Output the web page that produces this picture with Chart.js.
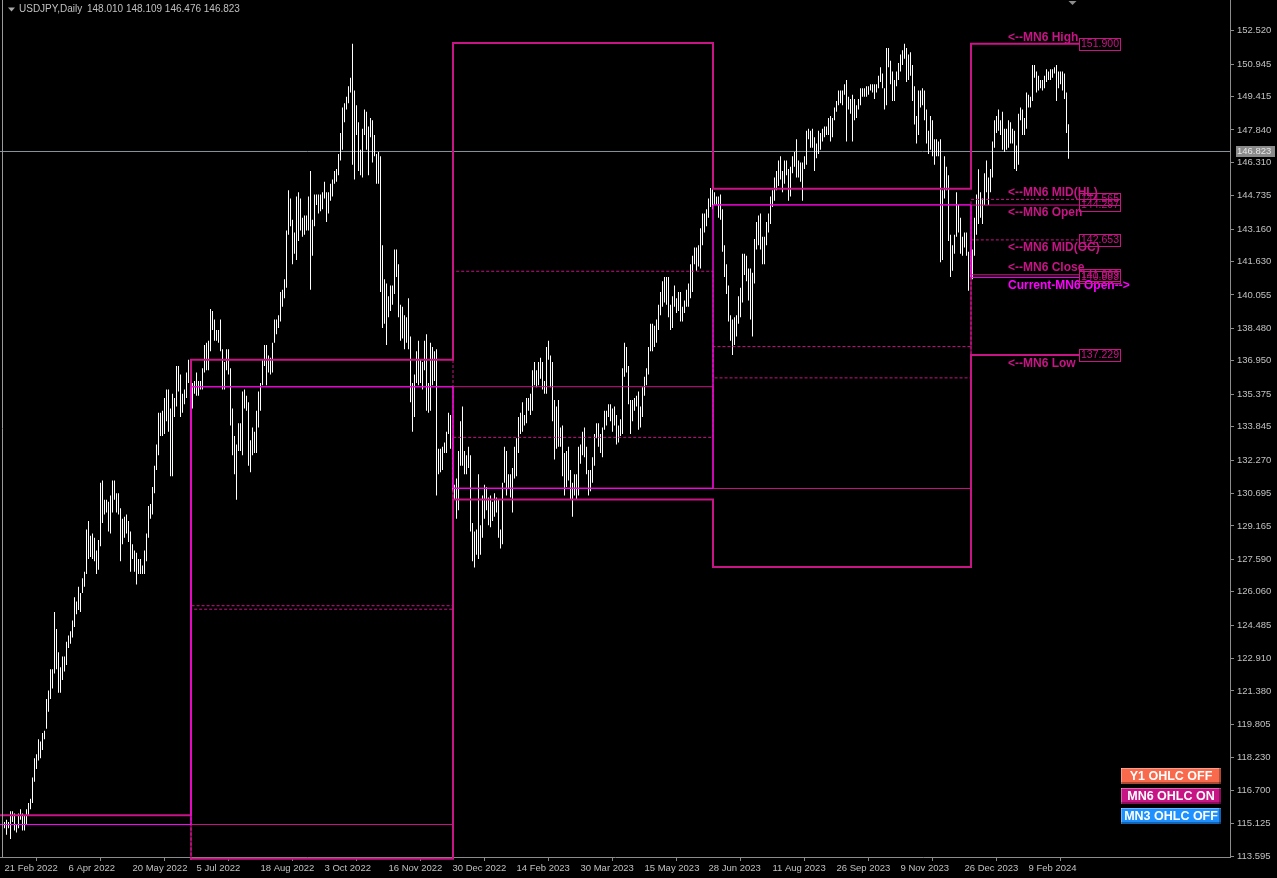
<!DOCTYPE html>
<html>
<head>
<meta charset="utf-8">
<script src="https://cdn.jsdelivr.net/npm/chart.js@4.4.1/dist/chart.umd.min.js"></script>
<style>
html, body { margin: 0; padding: 0; background: #000; }
canvas { display: block; }
</style>
</head>
<body>
<canvas id="chart" width="1277" height="878"></canvas>
<script>
// --- data ---
const symbolTitle = "USDJPY,Daily";
const lastBarOHLC = [148.010, 148.109, 146.476, 146.823];
const currentPrice = 146.823;

// bar index of each labelled date (one bar per weekday)
const xTickBars = [0, 32, 64, 96, 128, 160, 192, 224, 256, 288, 320, 352, 384, 416, 448, 480, 512];
const xTickLabels = ["21 Feb 2022", "6 Apr 2022", "20 May 2022", "5 Jul 2022", "18 Aug 2022", "3 Oct 2022",
  "16 Nov 2022", "30 Dec 2022", "14 Feb 2023", "30 Mar 2023", "15 May 2023", "28 Jun 2023",
  "11 Aug 2023", "26 Sep 2023", "9 Nov 2023", "26 Dec 2023", "9 Feb 2024"];
const yTickValues = [152.520, 150.945, 149.415, 147.840, 146.310, 144.735, 143.160, 141.630, 140.055,
  138.480, 136.950, 135.375, 133.845, 132.270, 130.695, 129.165, 127.590, 126.060, 124.485, 122.910,
  121.380, 119.805, 118.230, 116.700, 115.125, 113.595];

// daily highs, one row per week (21 Feb 2022 .. 8 Mar 2024)
const barHigh = [
  115.2,115.3,115.2,115.7,115.7, 115.6,115.1,115.6,115.8,115.6, 115.5,115.8,116.1,116.3,117.3,
  118.2,118.4,119.1,119.0,119.4, 119.5,121.0,121.4,122.4,122.4, 125.1,124.3,123.2,122.5,123.0,
  123.0,123.7,124.0,124.2,124.7, 125.8,125.6,126.3,126.0,126.7, 127.0,129.0,129.4,128.7,128.8,
  128.6,128.0,128.5,131.2,131.3, 130.4,130.4,130.3,130.6,131.3, 131.3,130.7,130.7,130.0,129.5,
  129.6,129.7,129.4,128.9,128.3, 128.0,127.9,127.6,127.6,127.3, 128.0,128.8,130.1,130.2,131.0,
  132.0,133.0,134.5,134.5,134.6, 135.2,135.6,135.6,134.7,135.4, 135.2,136.7,136.7,136.3,135.4,
  135.6,136.4,137.0,136.9,135.9, 136.0,136.4,136.0,136.0,136.6, 137.7,137.8,137.9,139.4,139.3,
  138.9,138.4,138.4,138.9,137.5, 136.9,137.5,137.5,136.6,134.7, 133.4,133.0,134.0,134.0,135.5,
  135.6,135.3,135.0,133.2,133.8, 133.6,134.6,135.5,135.9,137.0, 137.7,137.7,137.2,137.1,137.8,
  138.9,138.9,139.1,140.2,140.3, 140.8,143.1,145.0,144.6,143.6, 143.0,144.7,144.9,144.6,143.7,
  143.8,143.8,144.7,145.9,143.6, 144.8,144.8,144.8,144.8,144.9, 145.4,144.9,144.9,145.3,145.5,
  145.9,146.0,146.7,147.7,148.9, 149.1,149.4,149.9,150.3,151.9, 149.7,149.0,148.2,146.9,147.9,
  148.8,148.7,148.0,148.4,148.3, 147.6,146.7,146.8,146.6,142.4, 140.8,140.6,140.0,140.5,140.5,
  142.2,142.2,141.5,139.6,139.5, 139.1,139.0,139.9,138.1,135.9, 136.3,137.4,137.9,137.0,136.9,
  137.9,138.2,135.9,137.8,137.6, 137.4,137.5,132.8,132.8,132.9, 133.1,133.6,134.5,134.4,133.3,
  131.1,131.4,132.7,134.1,134.8, 132.7,132.5,132.9,132.5,129.3, 128.9,129.0,131.6,129.2,130.6,
  131.1,131.0,130.5,130.6,130.3, 130.7,130.5,130.4,129.0,131.2, 132.9,132.7,131.6,131.6,131.9,
  132.9,133.3,134.3,134.5,135.0, 134.4,135.2,135.2,135.4,136.5, 136.9,136.5,136.9,137.1,136.9,
  136.0,137.6,137.9,137.2,136.9, 135.1,134.8,135.1,133.8,133.9, 132.6,132.7,132.9,131.8,131.2,
  131.6,131.6,132.9,133.0,133.6, 133.8,132.9,131.8,131.8,132.4, 133.5,134.0,134.0,133.5,133.8,
  134.6,134.6,134.9,134.9,134.7, 134.8,134.4,133.9,134.2,136.6, 137.8,137.6,136.7,135.1,135.1,
  135.2,135.3,135.5,134.8,135.7, 136.2,136.6,137.6,138.7,138.7, 138.6,138.9,139.6,140.2,140.7,
  140.9,140.9,140.9,139.6,140.0, 140.5,139.9,140.2,140.2,139.5, 139.8,140.3,140.6,141.5,141.9,
  142.3,142.3,142.4,143.2,143.9, 143.9,144.1,144.6,145.1,145.07,
  144.9,144.7,144.7,144.8,144.1, 142.4,141.5,140.5,139.1,138.9, 139.0,139.1,140.0,140.4,142.0,
  142.0,141.9,141.3,141.3,141.1, 142.7,143.5,143.8,143.9,142.8, 142.8,143.5,143.9,144.7,145.0,
  145.6,145.9,146.4,146.6,145.9, 146.4,146.4,146.0,146.1,146.6, 146.8,147.4,146.4,146.3,146.3,
  146.6,147.8,147.9,147.8,147.9, 147.5,147.2,147.8,147.7,147.9, 148.0,148.0,148.4,148.5,148.4,
  148.9,149.2,149.7,149.7,149.7, 150.0,150.2,149.4,149.3,149.5, 149.3,149.0,149.3,149.8,149.8,
  149.8,149.9,149.9,150.0,150.0, 150.0,150.0,150.4,150.8,150.5, 149.8,151.7,151.7,151.1,150.6,
  150.2,150.6,151.0,151.4,151.6, 151.9,151.7,151.4,151.5,150.9, 149.9,148.5,149.7,149.7,149.8,
  149.7,148.8,147.8,148.5,148.3, 147.4,147.4,147.3,147.4,145.0, 146.6,146.1,145.7,142.9,142.4,
  142.9,144.9,144.3,143.7,142.8, 143.0,143.0,142.1,141.9,
  142.2,143.7,144.8,145.98, 144.9,144.6,145.8,146.4,145.6, 146.0,147.3,148.3,148.5,148.8,
  148.3,148.7,147.9,147.9,148.3, 148.2,147.9,147.8,147.1,148.6, 148.9,148.8,148.4,149.6,149.5,
  149.4,150.9,150.9,150.6,150.4, 150.2,150.2,150.4,150.7,150.6, 150.7,150.7,150.8,150.9,150.6,
  150.6,150.6,150.5,149.6,148.11
];
// daily lows, same layout
const barLow = [
  114.9,114.6,114.9,114.4,115.2, 114.8,114.7,114.9,115.3,114.8, 114.8,115.1,115.5,115.8,116.1,
  117.1,117.7,118.1,118.2,118.6, 119.1,119.6,120.4,121.0,121.5, 122.2,122.4,121.3,121.3,121.9,
  122.3,122.6,123.4,123.6,123.9, 124.4,125.0,125.2,125.1,126.0, 126.3,126.9,127.6,127.7,127.6,
  127.5,126.9,127.1,128.2,129.3, 129.7,129.8,128.9,128.8,129.8, 130.4,129.8,129.7,127.5,128.3,
  128.6,128.8,128.4,127.0,127.6, 127.0,126.4,126.9,126.9,126.9, 126.9,127.5,128.6,129.5,129.7,
  130.7,131.8,132.5,133.4,133.4, 133.5,134.1,133.6,131.5,131.5, 134.3,134.8,135.5,134.3,134.5,
  134.9,135.2,135.9,135.5,134.7, 135.4,135.3,135.3,135.6,135.6, 136.4,136.5,136.5,137.4,138.4,
  137.9,137.9,137.8,137.4,135.6, 135.6,136.5,136.3,133.9,132.5, 131.6,130.4,132.7,132.7,132.5,
  134.7,134.6,132.0,131.7,132.5, 132.6,132.6,133.8,134.6,135.8, 136.7,135.8,136.4,136.3,136.4,
  137.8,138.2,138.5,138.8,139.5, 139.9,140.4,142.9,143.3,141.5, 142.0,141.7,142.6,143.1,142.8,
  142.9,143.1,143.1,140.3,141.9, 143.3,144.3,143.9,144.0,144.1, 144.6,143.5,143.9,144.5,144.7,
  145.3,145.4,145.7,146.4,146.9, 148.2,148.8,149.1,149.6,146.2, 145.5,147.6,145.9,145.7,145.6,
  147.6,146.9,145.7,147.5,146.3, 146.6,145.3,145.3,140.2,138.5, 138.7,137.7,139.0,139.3,139.6,
  140.1,140.9,139.0,137.9,138.0, 137.5,137.8,137.5,135.0,133.6, 134.3,135.9,135.8,135.9,135.6,
  136.5,134.6,134.5,134.6,135.8, 136.0,130.6,131.6,131.7,131.8, 132.6,132.6,133.5,132.8,130.8,
  130.4,129.5,129.9,132.0,132.0, 131.6,131.6,131.9,128.9,127.5, 127.2,127.8,127.6,127.8,128.6,
  129.5,129.9,129.2,129.1,129.4, 129.6,129.8,128.6,128.1,128.3, 131.2,130.6,130.9,130.5,129.8,
  131.4,131.5,132.6,133.5,133.6, 133.9,134.0,134.6,134.4,134.6, 135.8,135.7,135.8,136.1,135.6,
  135.4,135.4,137.0,135.7,134.1, 132.3,132.8,132.9,132.9,131.5, 130.6,131.0,131.3,130.4,129.6,
  130.6,130.4,130.6,132.1,132.5, 132.4,131.6,130.6,130.8,131.2, 132.0,133.3,132.9,132.6,132.4,
  133.7,133.9,134.3,134.1,133.6, 133.9,133.0,133.1,133.4,133.5, 136.2,136.4,134.9,133.5,134.1,
  134.6,134.8,133.7,133.8,134.3, 135.3,135.8,136.3,137.4,137.4, 137.6,137.8,138.4,139.1,139.5,
  139.7,139.6,139.0,138.4,138.5, 139.5,139.2,139.3,138.8,138.8, 139.2,139.5,139.5,139.9,140.2,
  141.5,141.2,141.4,141.3,142.4, 143.0,143.3,143.7,144.2,144.1,
  144.3,144.3,143.7,143.6,142.1, 140.9,140.1,138.8,137.9,137.23, 137.7,138.1,138.7,139.0,139.7,
  141.0,140.7,139.8,138.9,138.1, 140.6,142.2,142.4,142.2,141.5, 141.5,142.4,143.0,143.4,144.2,
  144.5,145.0,145.2,145.5,144.9, 145.3,145.7,144.5,144.7,145.8, 146.1,145.6,145.6,145.4,144.5,
  146.0,146.2,147.4,147.0,147.0, 145.9,146.5,146.7,146.9,147.3, 147.5,147.6,147.6,147.3,147.5,
  148.3,148.7,149.0,149.1,149.0, 149.5,147.3,148.8,148.6,147.3, 148.3,148.4,148.8,149.0,149.4,
  149.4,149.4,149.5,149.7,149.6, 149.3,149.6,149.8,150.1,149.8, 148.8,149.0,150.8,150.0,149.2,
  149.2,149.9,150.2,150.6,150.9, 151.2,150.1,150.2,150.4,149.2, 148.1,147.2,147.6,148.9,149.0,
  148.3,147.2,146.7,146.9,146.6, 146.2,146.6,146.6,141.6,141.7, 144.6,145.0,142.6,140.9,141.2,
  142.0,142.8,143.0,142.0,141.9, 142.3,141.9,140.25,140.9,
  140.8,141.9,142.9,143.4, 143.7,143.4,144.3,144.9,144.3, 144.9,145.6,147.0,147.7,147.8,
  147.6,146.9,146.8,146.9,147.0, 147.2,147.2,146.0,145.9,146.2, 148.3,147.6,147.6,147.9,148.9,
  148.9,149.2,150.3,149.6,149.7, 149.8,149.7,149.8,150.1,150.2, 150.2,150.3,150.5,149.2,149.8,
  150.0,149.7,149.3,147.7,146.48
];

// MN6 levels: each half-year shows the previous half-year's OHLC
const periodStartBar = [-40, 94, 225, 355, 484];
const periodEndBar = 537.25;
const mn6High    = [115.520, 137.000, 151.940, 145.070, 151.900];
const mn6Low     = [109.120, 113.470, 130.410, 127.220, 137.229];
const mn6Open    = [111.060, 115.080, 135.730, 130.930, 144.297];
const mn6Close   = [115.080, 135.720, 130.950, 144.310, 141.009];
const mn6MidHL   = [112.320, 125.235, 141.175, 136.145, 144.565];
const mn6MidOC   = [113.070, 125.400, 133.340, 137.620, 142.653];
const mn6CurOpen = [115.080, 135.730, 130.930, 144.300, 140.883];

const buttons = [
  { text: "Y1 OHLC OFF", color: "#f9694b" },
  { text: "MN6 OHLC ON", color: "#c71585" },
  { text: "MN3 OHLC OFF", color: "#1e90ff" }
];

const VIOLET = "#c71585";
const MAGENTA = "#ff00ff";
const AXIS = "#8c8c8c";
const LABEL = "#c0c0c0";
const FONT = "'Liberation Sans', Arial, sans-serif";

// step line through the period starts
function stepPoints(values) {
  const pts = values.map((v, i) => ({ x: periodStartBar[i] - 0.75, y: v }));
  pts.push({ x: periodEndBar, y: values[values.length - 1] });
  return pts;
}
function levelSet(values, color, width, dash, order) {
  return {
    type: "line", data: stepPoints(values), stepped: "before",
    borderColor: color, borderWidth: width, borderDash: dash || [],
    pointRadius: 0, fill: false, order: order,
    clip: { left: 0, top: 0, right: 0, bottom: 3 }
  };
}

const bars = barHigh.map((h, i) => ({ x: i, y: [barLow[i], h] }));

const overlay = {
  id: "overlay",
  afterDatasetsDraw(chart) {
    const { ctx, scales: { x, y } } = chart;
    const k = mn6High.length - 1;
    const x0 = x.getPixelForValue(periodStartBar[k] - 0.75);
    const xb = x.getPixelForValue(periodEndBar);
    const rows = [
      { v: mn6High[k], t: "<--MN6 High", dy: -6.5, c: VIOLET },
      { v: mn6MidHL[k], t: "<--MN6 MID(HL)", dy: -7, c: VIOLET },
      { v: mn6Open[k], t: "<--MN6 Open", dy: 8, c: VIOLET },
      { v: mn6MidOC[k], t: "<--MN6 MID(OC)", dy: 8, c: VIOLET },
      { v: mn6Close[k], t: "<--MN6 Close", dy: -7, c: VIOLET },
      { v: mn6CurOpen[k], t: "Current-MN6 Open-->", dy: 8.5, c: MAGENTA },
      { v: mn6Low[k], t: "<--MN6 Low", dy: 9, c: VIOLET }
    ];
    ctx.save();
    ctx.textBaseline = "middle";
    rows.forEach(r => {
      const py = y.getPixelForValue(r.v);
      ctx.font = "bold 12px " + FONT;
      ctx.fillStyle = r.c;
      ctx.textAlign = "left";
      ctx.fillText(r.t, x0 + 37, py + r.dy);
      // price tag
      ctx.strokeStyle = VIOLET;
      ctx.lineWidth = 1;
      ctx.strokeRect(Math.round(xb) + 0.5, Math.round(py - 6) + 0.5, 41, 12);
      ctx.font = "10.5px " + FONT;
      ctx.fillStyle = VIOLET;
      ctx.textAlign = "center";
      ctx.fillText(r.v.toFixed(3), Math.round(xb) + 21, Math.round(py) + 0.5);
    });
    ctx.restore();
  },
  afterDraw(chart) {
    const { ctx, chartArea: a, scales: { x, y } } = chart;
    ctx.save();
    // left frame
    ctx.strokeStyle = "#9a9a9a";
    ctx.lineWidth = 1;
    ctx.beginPath(); ctx.moveTo(2.5, 0); ctx.lineTo(2.5, a.bottom); ctx.stroke();
    // header
    ctx.fillStyle = "#a8a8a8";
    ctx.beginPath(); ctx.moveTo(8, 7.5); ctx.lineTo(15, 7.5); ctx.lineTo(11.5, 11.5); ctx.closePath(); ctx.fill();
    ctx.font = "10px " + FONT;
    ctx.fillStyle = LABEL;
    ctx.textBaseline = "middle";
    ctx.textAlign = "left";
    ctx.fillText(symbolTitle, 19, 9.5);
    ctx.fillText(lastBarOHLC.map(v => v.toFixed(3)).join(" "), 87, 9.5);
    // chart shift marker
    const sx = x.getPixelForValue(barHigh.length + 1);
    ctx.fillStyle = "#8c8c8c";
    ctx.beginPath(); ctx.moveTo(sx - 4, 1); ctx.lineTo(sx + 4, 1); ctx.lineTo(sx, 5); ctx.closePath(); ctx.fill();
    // current price tag on the axis
    const py = Math.round(y.getPixelForValue(currentPrice));
    ctx.fillStyle = "#8a8a8a";
    ctx.fillRect(a.right + 6, py - 5, 39, 11);
    ctx.fillStyle = "#e6e6e6";
    ctx.font = "9.5px " + FONT;
    ctx.fillText(currentPrice.toFixed(3), a.right + 7, py + 0.5);
    // buttons
    buttons.forEach((b, i) => {
      const bx = 1121, by = 768 + i * 20, bw = 100, bh = 16;
      ctx.fillStyle = b.color;
      ctx.fillRect(bx, by, bw, bh);
      ctx.fillStyle = "rgba(255,255,255,0.35)";
      ctx.fillRect(bx, by, bw, 1); ctx.fillRect(bx, by, 1, bh);
      ctx.fillStyle = "rgba(0,0,0,0.3)";
      ctx.fillRect(bx, by + bh - 2, bw, 2); ctx.fillRect(bx + bw - 2, by, 2, bh);
      ctx.fillStyle = "#ffffff";
      ctx.font = "bold 12.5px " + FONT;
      ctx.textAlign = "center";
      ctx.fillText(b.text, bx + bw / 2, by + bh / 2 + 0.5);
      ctx.textAlign = "left";
    });
    ctx.restore();
  }
};

Chart.defaults.font.family = FONT;

new Chart(document.getElementById("chart"), {
  data: {
    datasets: [
      levelSet(mn6CurOpen, MAGENTA, 1, null, 1),
      levelSet(mn6High, VIOLET, 2, null, 2),
      levelSet(mn6Low, VIOLET, 2, null, 2),
      levelSet(mn6Open, VIOLET, 1, null, 3),
      levelSet(mn6Close, VIOLET, 1, null, 3),
      levelSet(mn6MidHL, VIOLET, 1, [3, 2], 4),
      levelSet(mn6MidOC, VIOLET, 1, [3, 2], 4),
      {
        type: "bar", data: bars, backgroundColor: "#ffffff", borderWidth: 0,
        barThickness: 1, inflateAmount: 0, grouped: false, order: 10
      },
      {
        type: "line", data: [{ x: -2.25, y: currentPrice }, { x: 612.75, y: currentPrice }],
        borderColor: "#8a949e", borderWidth: 1, pointRadius: 0, order: 20
      }
    ]
  },
  options: {
    responsive: false,
    animation: false,
    devicePixelRatio: 1,
    layout: { padding: 0 },
    plugins: { legend: { display: false }, tooltip: { enabled: false } },
    scales: {
      x: {
        type: "linear", position: "bottom", min: -2.25, max: 612.75, offset: false,
        grid: { drawOnChartArea: false, drawTicks: true, tickLength: 4, color: AXIS },
        border: { color: AXIS },
        ticks: {
          color: LABEL, font: { size: 9.5 }, align: "start", maxRotation: 0, autoSkip: false, padding: 2,
          callback: (v, i) => xTickLabels[i]
        },
        afterBuildTicks: s => { s.ticks = xTickBars.map(v => ({ value: v })); },
        afterFit: s => { s.height = 21; s.paddingLeft = 0; s.paddingRight = 0; }
      },
      y: {
        type: "linear", position: "right", min: 113.548, max: 153.968,
        grid: { drawOnChartArea: false, drawTicks: true, tickLength: 4, color: AXIS },
        border: { color: AXIS },
        ticks: { color: LABEL, font: { size: 9.5 }, padding: 3, callback: v => v.toFixed(3) },
        afterBuildTicks: s => { s.ticks = yTickValues.map(v => ({ value: v })); },
        afterFit: s => { s.width = 47; s.paddingTop = 0; s.paddingBottom = 0; }
      }
    }
  },
  plugins: [overlay]
});
</script>
</body>
</html>
